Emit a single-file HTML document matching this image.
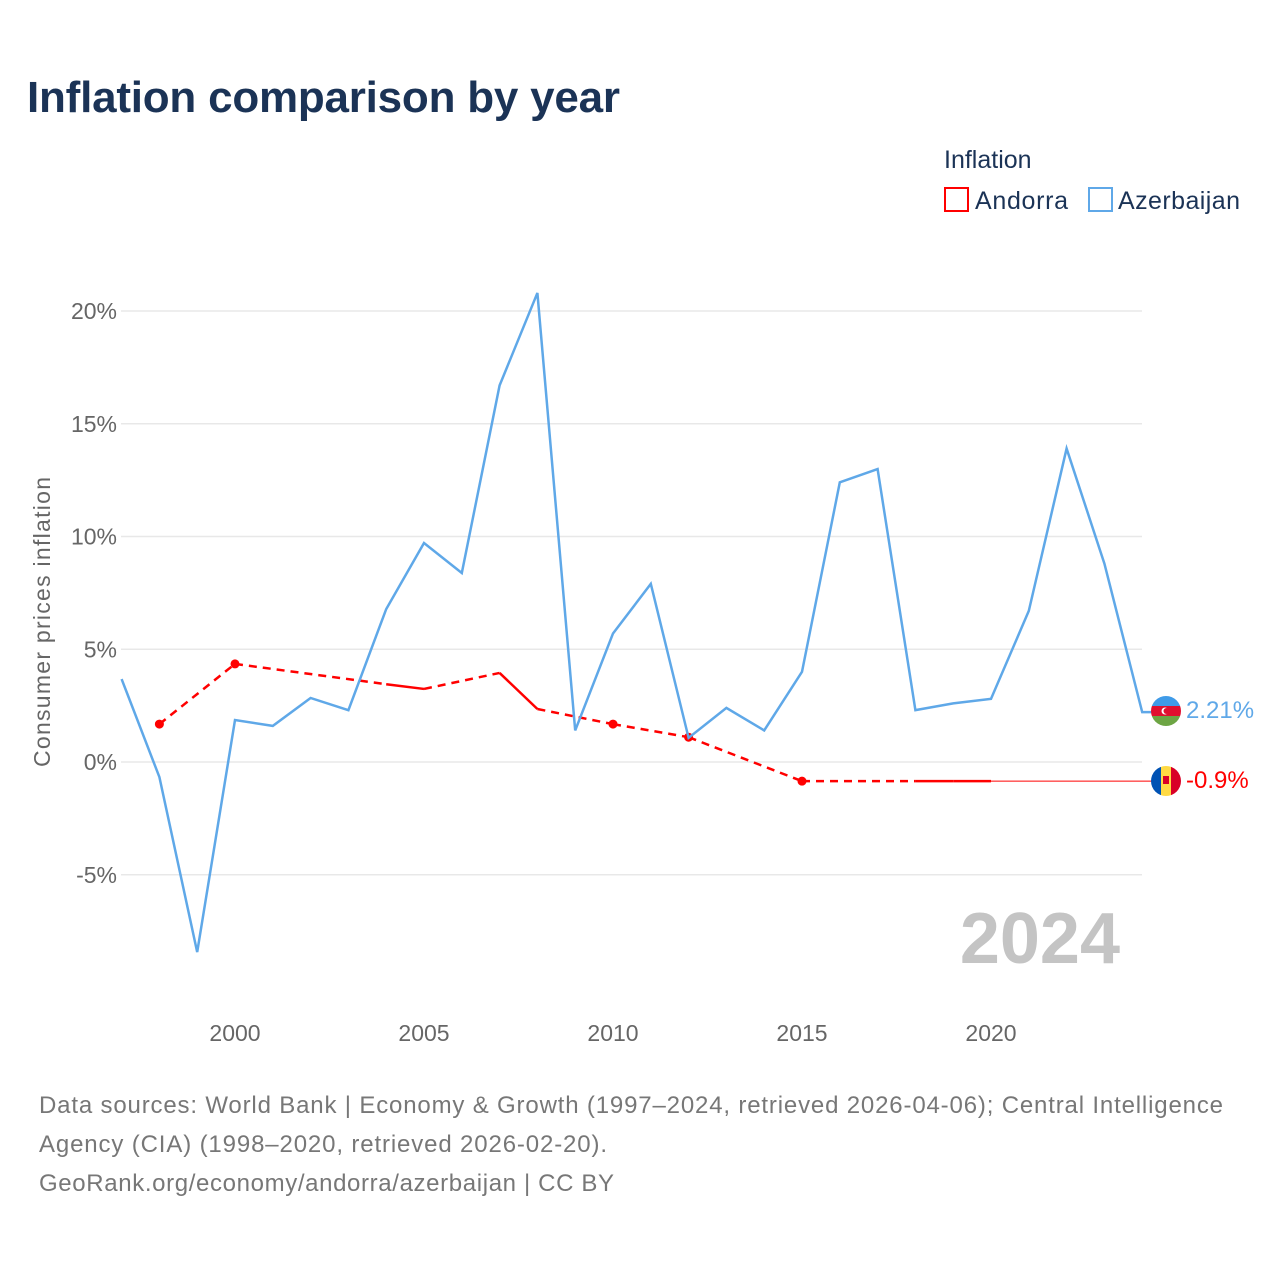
<!DOCTYPE html>
<html><head><meta charset="utf-8"><style>
body{margin:0;background:#fff;font-family:"Liberation Sans",sans-serif;}
#wrap{position:relative;width:1280px;height:1280px;overflow:hidden;}
</style></head><body>
<div id="wrap">
<svg id="svg" width="1280" height="1280" xmlns="http://www.w3.org/2000/svg">
<text x="27" y="112" font-size="44" font-weight="bold" fill="#1b3356" textLength="593">Inflation comparison by year</text>
<text x="944" y="168" font-size="25" fill="#1b3356">Inflation</text>
<g><rect x="945" y="188" width="23" height="23" fill="none" stroke="#ff0000" stroke-width="2"/><text x="975" y="209" font-size="25" fill="#1b3356" textLength="93">Andorra</text></g>
<g><rect x="1089" y="188" width="23" height="23" fill="none" stroke="#5fa8e8" stroke-width="2"/><text x="1118" y="209" font-size="25" fill="#1b3356" textLength="122">Azerbaijan</text></g>
<text transform="translate(50,622) rotate(-90)" text-anchor="middle" font-size="23" fill="#666" textLength="290">Consumer prices inflation</text>
<text x="1120" y="963" text-anchor="end" font-size="72" font-weight="bold" fill="#c4c4c4">2024</text>
<g id="grid"></g><g id="series"></g>
<g>
<clipPath id="c1"><circle cx="1166" cy="711" r="15"/></clipPath>
<g clip-path="url(#c1)"><rect x="1150" y="696" width="32" height="10" fill="#3f9be8"/><rect x="1150" y="706" width="32" height="10" fill="#e0102f"/><rect x="1150" y="716" width="32" height="11" fill="#6da544"/><circle cx="1165" cy="711" r="3.5" fill="#fff"/><circle cx="1166.5" cy="711" r="3" fill="#e0102f"/></g></g>
<text x="1186" y="718" font-size="24" fill="#5fa8e8">2.21%</text>
<g>
<clipPath id="c2"><circle cx="1166" cy="781" r="15"/></clipPath>
<g clip-path="url(#c2)"><rect x="1150" y="765" width="11" height="32" fill="#0052b4"/><rect x="1161" y="765" width="10" height="32" fill="#ffda44"/><rect x="1171" y="765" width="11" height="32" fill="#d80027"/><rect x="1163" y="776" width="6" height="8" fill="#d80027"/></g></g>
<text x="1186" y="788" font-size="24" fill="#ff0000">-0.9%</text>
<text x="39" y="1113" font-size="24" fill="#777" textLength="1184">Data sources: World Bank | Economy &amp; Growth (1997–2024, retrieved 2026-04-06); Central Intelligence</text>
<text x="39" y="1152" font-size="24" fill="#777" textLength="568">Agency (CIA) (1998–2020, retrieved 2026-02-20).</text>
<text x="39" y="1191" font-size="24" fill="#777" textLength="575">GeoRank.org/economy/andorra/azerbaijan | CC BY</text>
</svg></div>
<script>
const years=[1997,1998,1999,2000,2001,2002,2003,2004,2005,2006,2007,2008,2009,2010,2011,2012,2013,2014,2015,2016,2017,2018,2019,2020,2021,2022,2023,2024];
const azerbaijan=[3.68,-0.67,-8.43,1.86,1.6,2.84,2.3,6.78,9.71,8.38,16.7,20.8,1.4,5.7,7.9,1.07,2.4,1.4,4.0,12.4,12.99,2.3,2.6,2.8,6.7,13.9,8.8,2.21];
const andorra=[null,1.68,null,4.35,null,null,null,3.45,3.24,null,3.95,2.35,null,1.68,null,1.1,null,null,-0.85,null,null,-0.85,-0.85,-0.85,null,null,null,null];
const yTicks=[20,15,10,5,0,-5];
const xTicks=[2000,2005,2010,2015,2020];
const X=y=>121.6+(y-1997)*37.8;
const Y=v=>762-v*22.55;
const NS="http://www.w3.org/2000/svg";
function mk(t,a,p){const e=document.createElementNS(NS,t);for(const k in a)e.setAttribute(k,a[k]);p.appendChild(e);return e;}
const grid=document.getElementById('grid'),ser=document.getElementById('series');
yTicks.forEach(v=>{
 const l=mk('line',{x1:121,x2:1142,y1:Y(v),y2:Y(v),stroke:'#e8e8e8','stroke-width':1.5},grid);
 
 
 const t=mk('text',{x:117,y:Y(v)+8,'text-anchor':'end','font-size':23,fill:'#666'},grid);t.textContent=v+'%';
 
 
});
xTicks.forEach(y=>{
 const t=mk('text',{x:X(y),y:1041,'text-anchor':'middle','font-size':23,fill:'#666'},grid);t.textContent=y;
 
 
});
const pts=[];andorra.forEach((v,i)=>{if(v!==null)pts.push([i,v]);});
for(let k=0;k<pts.length-1;k++){
 const [i,a]=pts[k],[j,b]=pts[k+1];
 const l=mk('line',{x1:X(years[i]),y1:Y(a),x2:X(years[j]),y2:Y(b),stroke:'#ff0000','stroke-width':2.5},ser);
 if(j-i>1)l.setAttribute('stroke-dasharray','8,6');
 
 
}
pts.forEach(([i,v])=>{
 const prev=i>0&&andorra[i-1]!==null,next=i<andorra.length-1&&andorra[i+1]!==null;
 if(!prev&&!next){const c=mk('circle',{cx:X(years[i]),cy:Y(v),r:4.5,fill:'#ff0000'},ser);
 
 }
});
const lp=pts[pts.length-1];
const ext=mk('line',{x1:X(years[lp[0]]),y1:Y(lp[1]),x2:1152,y2:Y(lp[1]),stroke:'#ff0000','stroke-width':1},ser);


const d=azerbaijan.map((v,i)=>(i?'L':'M')+X(years[i])+','+Y(v)).join(' ')+' L1152,'+Y(azerbaijan[azerbaijan.length-1]);
const p=mk('path',{d:d,fill:'none',stroke:'#5fa8e8','stroke-width':2.5,'stroke-linejoin':'miter'},ser);


</script>
</body></html>
